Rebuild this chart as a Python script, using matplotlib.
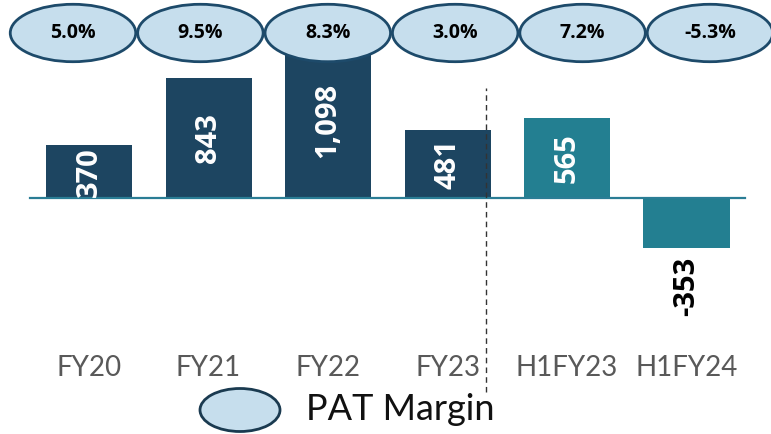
import matplotlib
matplotlib.use("Agg")
import matplotlib.pyplot as plt
from matplotlib.patches import Ellipse

plt.rcParams["font.family"] = ["Lato", "DejaVu Sans"]
BOLD = ["Open Sans", "DejaVu Sans"]

categories = ["FY20", "FY21", "FY22", "FY23", "H1FY23", "H1FY24"]
pat = [370, 843, 1098, 481, 565, -353]
pat_labels = ["370", "843", "1,098", "481", "565", "-353"]
margins = ["5.0%", "9.5%", "8.3%", "3.0%", "7.2%", "-5.3%"]
is_half = [False, False, False, False, True, True]

NAVY = "#1d4561"
TEAL = "#237f91"
ELL_FILL = "#c6deed"
ELL_EDGE = "#1d4a6a"

W, H = 771, 434
fig = plt.figure(figsize=(W / 100, H / 100), dpi=100)

# main bar axes spans the whole figure; scale chosen so baseline sits ~198px from top
ax = fig.add_axes([0, 0, 1, 1])
ax.set_xlim(-0.745, 5.707)
ax.set_ylim(-1662, 1394)
ax.axis("off")

x = list(range(len(categories)))
colors = [TEAL if h else NAVY for h in is_half]
ax.bar(x, pat, width=0.72, color=colors, zorder=2)

ax.axhline(0, xmin=0.039, xmax=0.966, color="#2a7d95", lw=1.6, zorder=3)
ax.axvline(3.32, ymin=0.097, ymax=0.797, color="#333333", lw=1, ls=(0, (4, 3)), zorder=4)

for i, (v, lab) in enumerate(zip(pat, pat_labels)):
    if v >= 0:
        ax.text(i, v / 2, lab, rotation=90, ha="center", va="center",
                color="white", fontsize=21, fontweight="bold", family=BOLD, zorder=5)
    else:
        ax.annotate(lab, (i, v), xytext=(0, -6), textcoords="offset points",
                    rotation=90, ha="center", va="top", color="black",
                    fontsize=21, fontweight="bold", family=BOLD, zorder=5)

for i, c in enumerate(categories):
    ax.text(i, 0.152, c, transform=ax.get_xaxis_transform(), ha="center",
            va="center", color="#595959", fontsize=20)

# margin ellipses strip across the top
ax2 = fig.add_axes([0, 1 - 66 / H, 1, 66 / H])
ax2.set_xlim(-0.573, 5.479)
ax2.set_ylim(0, 1)
ax2.axis("off")
ax2.patch.set_alpha(0)
for i, m in enumerate(margins):
    ax2.add_patch(Ellipse((i, 0.5), 0.985, 0.87, facecolor=ELL_FILL,
                          edgecolor=ELL_EDGE, lw=2))
    ax2.text(i, 0.5, m, ha="center", va="center", fontsize=14,
             fontweight="bold", family=BOLD, color="black")

# legend
fig.patches.append(Ellipse((240 / W, 1 - 410 / H), 80 / W, 43 / H,
                           transform=fig.transFigure, facecolor=ELL_FILL,
                           edgecolor="#1a3a50", lw=2))
fig.text(306 / W, 1 - 410 / H, "PAT Margin", ha="left", va="center",
         fontsize=26, color="#111111")

fig.savefig("out.png", dpi=100)
